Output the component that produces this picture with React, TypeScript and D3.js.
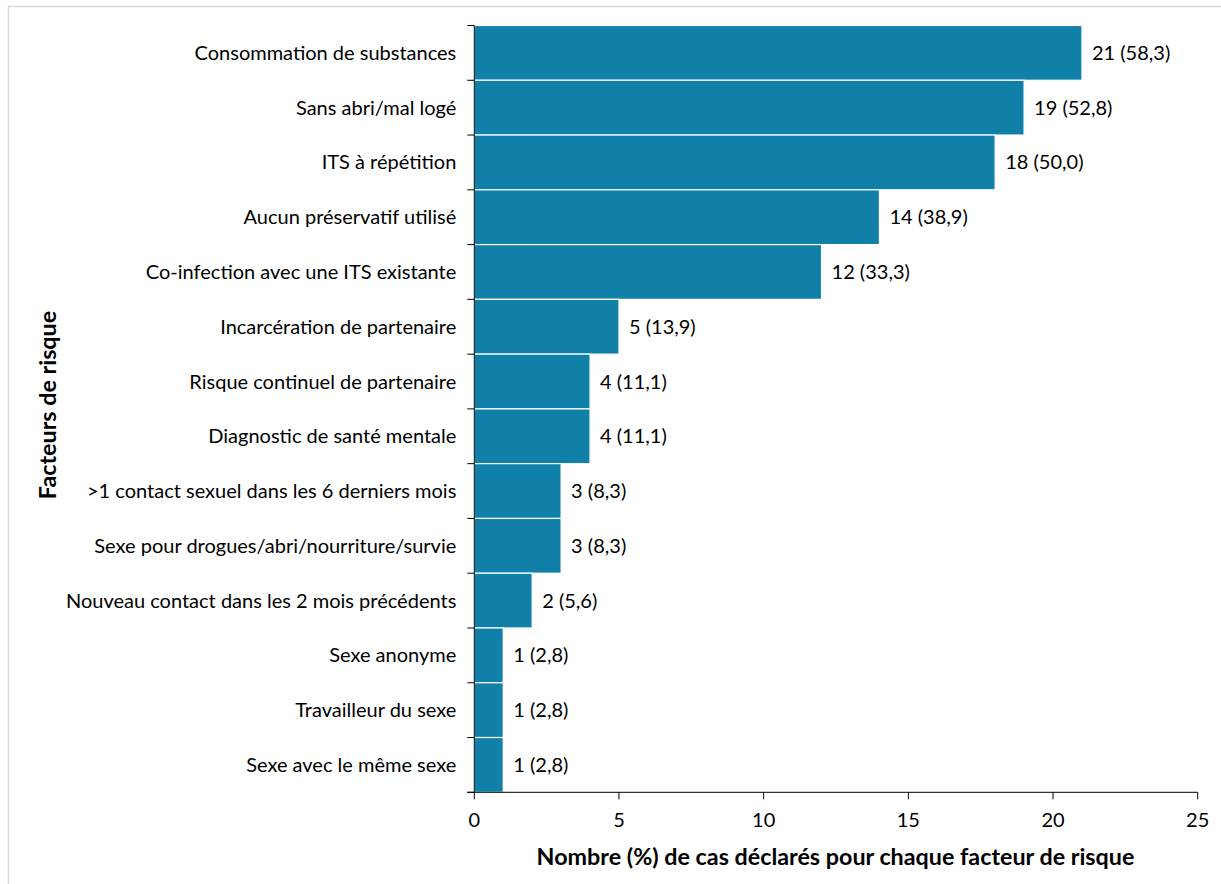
import React from "react";
import * as d3 from "d3";

const categories = [
  "Consommation de substances",
  "Sans abri/mal logé",
  "ITS à répétition",
  "Aucun préservatif utilisé",
  "Co-infection avec une ITS existante",
  "Incarcération de partenaire",
  "Risque continuel de partenaire",
  "Diagnostic de santé mentale",
  ">1 contact sexuel dans les 6 derniers mois",
  "Sexe pour drogues/abri/nourriture/survie",
  "Nouveau contact dans les 2 mois précédents",
  "Sexe anonyme",
  "Travailleur du sexe",
  "Sexe avec le même sexe",
];
const counts = [21, 19, 18, 14, 12, 5, 4, 4, 3, 3, 2, 1, 1, 1];
const percents = ["58,3", "52,8", "50,0", "38,9", "33,3", "13,9", "11,1", "11,1", "8,3", "8,3", "5,6", "2,8", "2,8", "2,8"];
const xTicks = [0, 5, 10, 15, 20, 25];

const W = 1221;
const H = 884;
const left = 474.3;
const right = 1197.7;
const top = 25.5;
const bottom = 792.3;
const FONT = "Lato, 'Open Sans', sans-serif";
const FS = 20;
const FSB = 23.3;

export default function App() {
  const x = d3.scaleLinear().domain([0, 25]).range([left, right]);
  const y = d3.scaleBand<string>().domain(categories).range([top, bottom]).padding(0);
  const bw = y.bandwidth();
  return (
    <svg width={W} height={H} style={{ position: "absolute", left: 0, top: 0 }}>
      <rect x={0} y={0} width={W} height={H} fill="#fff" />
      <rect x={8.5} y={6.5} width={W + 10} height={H + 10} fill="none" stroke="#d9d9d9" strokeWidth={1.5} />
      {categories.map((c, i) => (
        <g key={c}>
          <rect
            x={x(0)}
            y={y(c)!}
            width={x(counts[i]) - x(0)}
            height={bw}
            fill="#1180a8"
            stroke="#ffffff"
            strokeWidth={1.2}
          />
          <text
            x={x(counts[i]) + 10}
            y={y(c)! + bw / 2}
            dy="0.35em"
            fontFamily={FONT}
            fontSize={FS}
            fill="#000"
          >
            {`${counts[i]} (${percents[i]})`}
          </text>
          <text
            x={left - 18}
            y={y(c)! + bw / 2}
            dy="0.35em"
            textAnchor="end"
            fontFamily={FONT}
            fontSize={FS}
            fill="#000"
          >
            {c}
          </text>
        </g>
      ))}
      {/* y axis */}
      <line x1={left} x2={left} y1={top} y2={bottom} stroke="#000" strokeWidth={1} />
      {[...categories.map((c) => y(c)!), bottom].map((v, i) => (
        <line key={i} x1={left - 7} x2={left} y1={v} y2={v} stroke="#000" strokeWidth={1} />
      ))}
      {/* x axis */}
      <line x1={left - 7} x2={right} y1={bottom} y2={bottom} stroke="#000" strokeWidth={1} />
      {xTicks.map((t) => (
        <g key={t}>
          <line x1={x(t)} x2={x(t)} y1={bottom} y2={bottom + 7} stroke="#000" strokeWidth={1} />
          <text x={x(t)} y={820} dy="0.35em" textAnchor="middle" fontFamily={FONT} fontSize={FS} fill="#000">
            {t}
          </text>
        </g>
      ))}
      <text
        x={(535 + 1136) / 2}
        y={857}
        dy="0.35em"
        textAnchor="middle"
        fontFamily={FONT}
        fontSize={FSB}
        fontWeight="bold"
        fill="#000"
      >
        Nombre (%) de cas déclarés pour chaque facteur de risque
      </text>
      <text
        transform={`translate(48,${(317 + 493) / 2}) rotate(-90)`}
        dy="0.35em"
        textAnchor="middle"
        fontFamily={FONT}
        fontSize={FSB}
        fontWeight="bold"
        fill="#000"
      >
        Facteurs de risque
      </text>
    </svg>
  );
}
